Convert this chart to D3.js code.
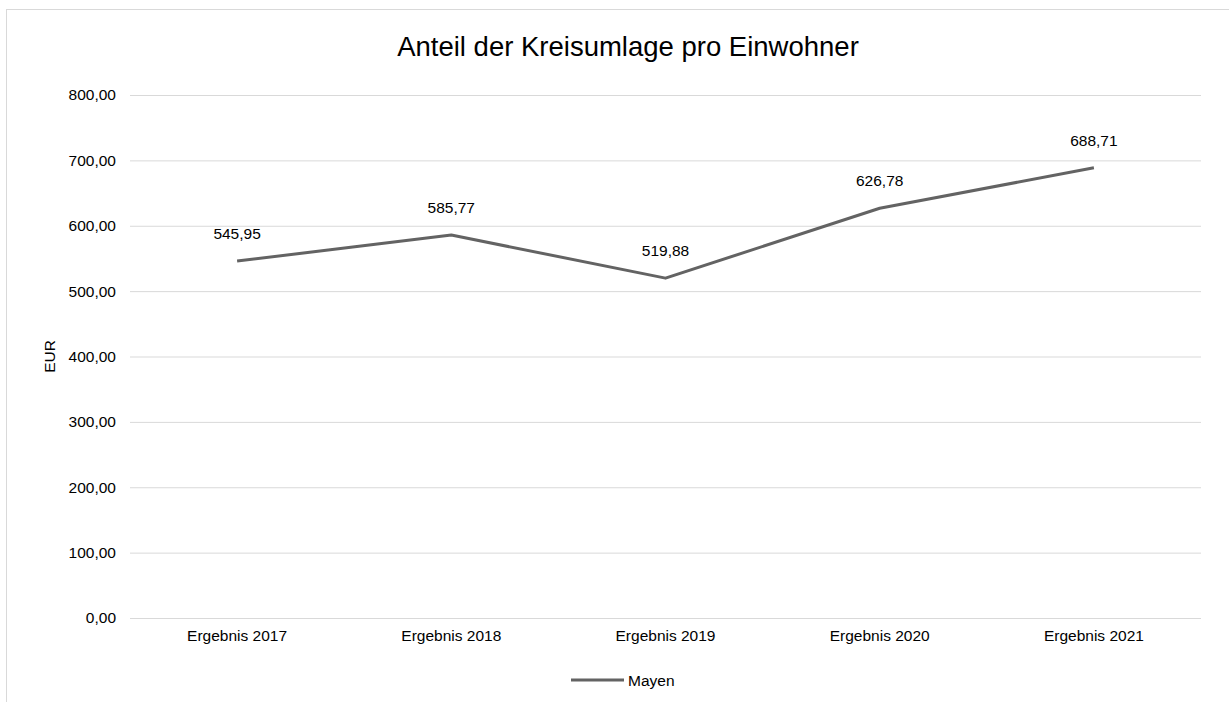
<!DOCTYPE html>
<html>
<head>
<meta charset="utf-8">
<script src="https://cdn.jsdelivr.net/npm/d3@7"></script>
<style>
  html, body { margin: 0; padding: 0; background: #fff; }
  svg { display: block; font-family: "Liberation Sans", Arial, sans-serif; }
</style>
</head>
<body>
<svg id="chart" width="1229" height="702"></svg>
<script>
// Kreisumlage per inhabitant, Mayen
const categories = ["Ergebnis 2017", "Ergebnis 2018", "Ergebnis 2019", "Ergebnis 2020", "Ergebnis 2021"];
const values = [545.95, 585.77, 519.88, 626.78, 688.71];
const yTicks = [0, 100, 200, 300, 400, 500, 600, 700, 800];
const seriesName = "Mayen";
const title = "Anteil der Kreisumlage pro Einwohner";
const yTitle = "EUR";

const svg = d3.select("#chart");
const W = 1229, H = 702;
const plot = { left: 130, right: 1201, top: 95, bottom: 618 };
const fs = 15.5;
const fmt = v => d3.format(".2f")(v).replace(".", ",");

// outer chart border
svg.append("rect")
  .attr("x", 6.5).attr("y", 9.5)
  .attr("width", W + 10).attr("height", H + 10)
  .attr("fill", "#fff").attr("stroke", "#d9d9d9").attr("stroke-width", 1);

const x = d3.scaleBand().domain(categories).range([plot.left, plot.right]);
const y = d3.scaleLinear().domain([0, 800]).range([plot.bottom, plot.top]);

// gridlines + y labels
const yAxis = svg.append("g")
  .attr("transform", `translate(${plot.left},0)`)
  .call(d3.axisLeft(y).tickValues(yTicks).tickFormat(fmt)
    .tickSize(-(plot.right - plot.left)).tickPadding(14));
yAxis.select(".domain").remove();
yAxis.selectAll(".tick line").attr("stroke", "#d9d9d9").attr("stroke-width", 1);
yAxis.selectAll(".tick text").attr("fill", "#000").attr("font-size", fs)
  .attr("font-family", "Liberation Sans, Arial, sans-serif");

// x labels
const xAxis = svg.append("g")
  .attr("transform", `translate(0,${plot.bottom})`)
  .call(d3.axisBottom(x).tickSize(0).tickPadding(12));
xAxis.select(".domain").remove();
xAxis.selectAll(".tick text").attr("fill", "#000").attr("font-size", fs)
  .attr("font-family", "Liberation Sans, Arial, sans-serif");

// title
svg.append("text")
  .attr("x", 628).attr("y", 55.5)
  .attr("text-anchor", "middle")
  .attr("font-size", 27.5).attr("fill", "#000")
  .text(title);

// y axis title
svg.append("text")
  .attr("transform", `translate(55,${(plot.top + plot.bottom) / 2}) rotate(-90)`)
  .attr("text-anchor", "middle")
  .attr("font-size", fs).attr("fill", "#000")
  .text(yTitle);

const cx = d => x(d) + x.bandwidth() / 2;
const pts = categories.map((c, i) => ({ c, v: values[i] }));

// series line
svg.append("path")
  .datum(pts)
  .attr("fill", "none")
  .attr("stroke", "#636363")
  .attr("stroke-width", 3)
  .attr("stroke-linejoin", "round")
  .attr("d", d3.line().x(d => cx(d.c)).y(d => y(d.v)));

// data labels
svg.append("g").selectAll("text")
  .data(pts).join("text")
  .attr("x", d => cx(d.c))
  .attr("y", d => y(d.v) - 22)
  .attr("text-anchor", "middle")
  .attr("font-size", fs).attr("fill", "#000")
  .text(d => fmt(d.v));

// legend
const lg = svg.append("g");
lg.append("line")
  .attr("x1", 571).attr("x2", 624).attr("y1", 680).attr("y2", 680)
  .attr("stroke", "#636363").attr("stroke-width", 3);
lg.append("text")
  .attr("x", 628).attr("y", 685.5)
  .attr("font-size", fs).attr("fill", "#000")
  .text(seriesName);
</script>
</body>
</html>
